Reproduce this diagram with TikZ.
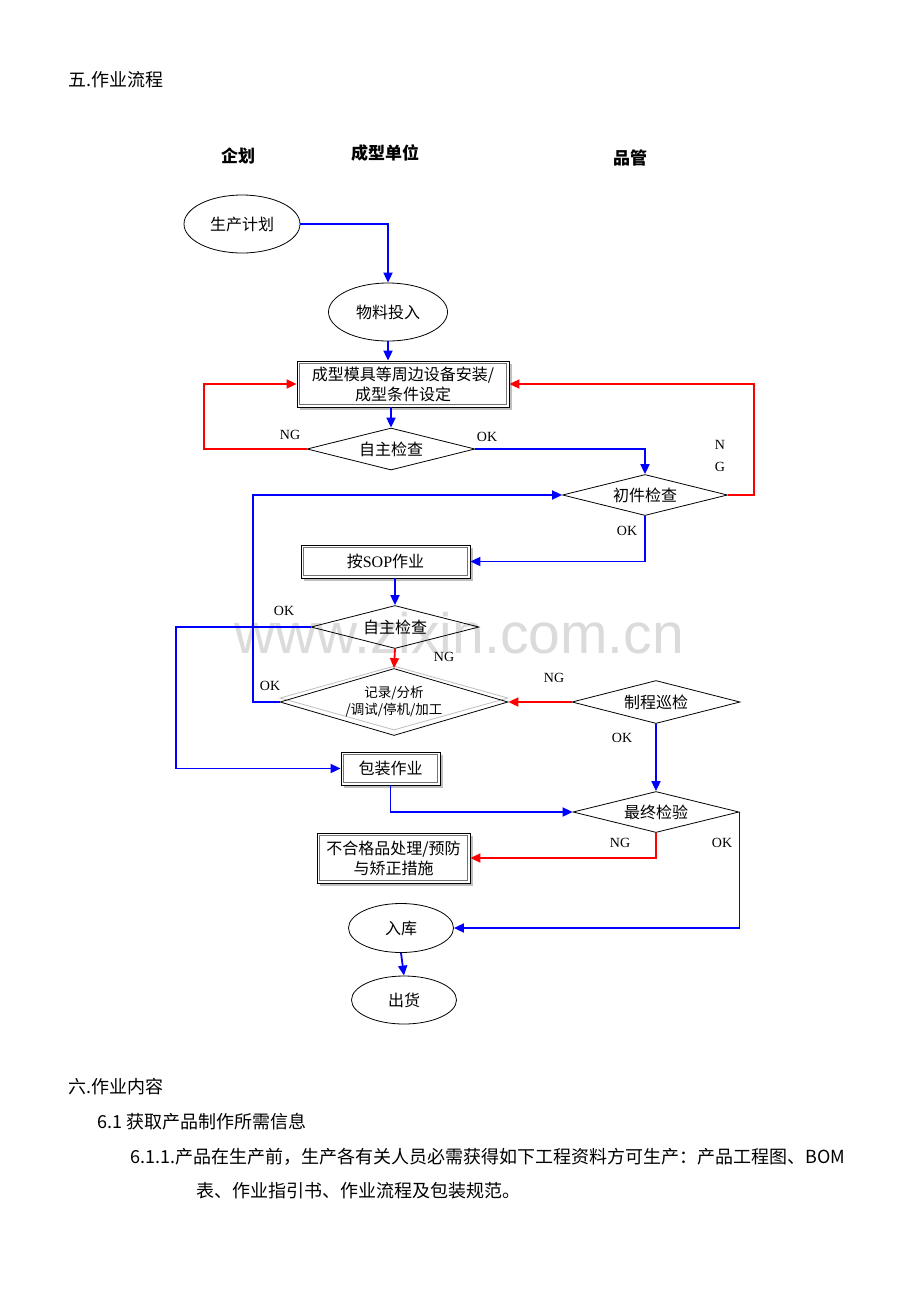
\documentclass[tikz,border=0pt]{standalone}
\usepackage{fontspec}
\setmainfont{Noto Sans CJK SC}
\newfontfamily\latinf{Liberation Serif}
\newfontfamily\wmfont{Liberation Sans}
\usetikzlibrary{shapes.geometric,arrows.meta,calc}
\definecolor{fblue}{RGB}{0,0,255}
\definecolor{fred}{RGB}{255,0,0}
\tikzset{
  bl/.style={draw=fblue,line width=1.8pt,-{Triangle[length=10pt,width=9pt]}},
  rd/.style={draw=fred,line width=1.8pt,-{Triangle[length=10pt,width=9pt]}},
  ell/.style={ellipse,draw,line width=0.8pt,inner sep=0pt,font=\fontsize{16}{18}\selectfont},
  dia/.style={diamond,draw,line width=0.8pt,inner sep=0pt,aspect=4,font=\fontsize{16}{18}\selectfont},
  boxs/.style={rectangle,draw=black,line width=0.8pt,inner sep=0pt,font=\fontsize{16}{20}\selectfont,align=center},
  inner/.style={draw=black!55,line width=0.7pt},
  shad/.style={draw=black!25,line width=1.5pt},
  lab/.style={font=\latinf\fontsize{14}{14}\selectfont,inner sep=0pt},
  hdr/.style={font=\bfseries\fontsize{17}{17}\selectfont,inner sep=0pt},
  body/.style={font=\fontsize{18}{18}\selectfont,inner sep=0pt,anchor=west}
}
\newcommand\boxdeco[1]{%
  \draw[shad] ($(#1.north east)+(1.5,3)$) -- ($(#1.south east)+(1.5,1.5)$) -- ($(#1.south west)+(3,1.5)$);
  \draw[inner] ($(#1.south west)+(3,-3)$) rectangle ($(#1.north east)+(-3,3)$);}
\begin{document}
\begin{tikzpicture}[x=1pt,y=-1pt]
\useasboundingbox[fill=white] (0,0) rectangle (920,1302);
% watermark
\node[font=\wmfont\fontsize{57}{57}\selectfont,text=black!14,inner sep=0pt] (wm) at (459,633) {www.zixin.com.cn};
% headings and texts
\node[body] (t5) at (68,80) {五.作业流程};
\node[hdr] (h1) at (238,156) {企划};
\node[hdr] (h2) at (385,153) {成型单位};
\node[hdr] (h3) at (630,158) {品管};
% nodes
\node[ell,minimum width=116pt,minimum height=58pt] (sc) at (242,224) {生产计划};
\node[ell,minimum width=119pt,minimum height=58pt] (wl) at (388,312) {物料投入};
\node[boxs,minimum width=212pt,minimum height=46pt] (box) at (403,384) {成型模具等周边设备安装/\\成型条件设定};
\boxdeco{box}
\node[dia,minimum width=168pt,minimum height=42pt] (z1) at (391,449) {自主检查};
\node[dia,minimum width=165pt,minimum height=41pt] (cj) at (645,495) {初件检查};
\node[boxs,minimum width=169pt,minimum height=33pt] (sop) at (385.5,561.5) {按{\latinf SOP}作业};
\boxdeco{sop}
\node[dia,minimum width=168pt,minimum height=43pt] (z2) at (395,627) {自主检查};
\node[diamond,draw=black!25,line width=0.8pt,minimum width=228pt,minimum height=64pt,aspect=3.5,inner sep=0pt] (recs) at (394,698) {};
\node[dia,aspect=3.4,minimum width=228pt,minimum height=67pt,align=center,font=\fontsize{13.5}{17}\selectfont] (rec) at (394,702) {记录/分析\\/调试/停机/加工};
\node[dia,minimum width=168pt,minimum height=43pt] (zc) at (656,702) {制程巡检};
\node[boxs,minimum width=99pt,minimum height=33pt] (bz) at (390.5,768.5) {包装作业};
\boxdeco{bz}
\node[dia,minimum width=166pt,minimum height=41pt] (zj) at (656,812) {最终检验};
\node[boxs,minimum width=153pt,minimum height=50pt] (bhg) at (393.5,858) {不合格品处理/预防\\与矫正措施};
\boxdeco{bhg}
\node[ell,minimum width=105pt,minimum height=49pt] (rk) at (401,928) {入库};
\node[ell,minimum width=105pt,minimum height=48pt] (ch) at (404,1000) {出货};
% connectors
\draw[bl] (sc.east) -| (wl.north);
\draw[bl] (wl.south) -- (wl.south |- box.north);
\draw[bl] (z1.north |- box.south) -- (z1.north);
\draw[rd] (z1.west) -- ++(-103,0) |- (box.west);
\draw[bl] (z1.east) -| (cj.north);
\draw[rd] (cj.east) -- ++(26,0) |- (box.east);
\draw[bl] (rec.west) -- ++(-27,0) |- (cj.west);
\draw[bl] (cj.south) |- (sop.east);
\draw[bl] (z2.north |- sop.south) -- (z2.north);
\draw[bl] (z2.west) -- ++(-135,0) |- (bz.west);
\draw[rd] (z2.south) -- (rec.north);
\draw[rd] (zc.west) -- (rec.east);
\draw[bl] (zc.south) -- (zj.north);
\draw[bl] (bz.south) |- (zj.west);
\draw[rd] (zj.south) |- (bhg.east);
\draw[bl] (zj.east) |- (rk.east);
\draw[bl] (rk.south) -- (ch.north);
% labels
\node[lab] (l1) at (290,435) {NG};
\node[lab] (l2) at (487,437) {OK};
\node[lab] (l3) at (720,445) {N};
\node[lab] (l4) at (720,467) {G};
\node[lab] (l5) at (627,531) {OK};
\node[lab] (l6) at (284,611) {OK};
\node[lab] (l7) at (444,657) {NG};
\node[lab] (l8) at (270,686) {OK};
\node[lab] (l9) at (554,678) {NG};
\node[lab] (l10) at (622,738) {OK};
\node[lab] (l11) at (620,843) {NG};
\node[lab] (l12) at (722,843) {OK};
% body text
\node[body] (t6) at (68,1087) {六.作业内容};
\node[body] (t61) at (97,1122) {6.1 获取产品制作所需信息};
\node[body] (t611) at (130,1157) {6.1.1.产品在生产前，生产各有关人员必需获得如下工程资料方可生产：产品工程图、BOM};
\node[body] (t611b) at (196,1191) {表、作业指引书、作业流程及包装规范。};
\end{tikzpicture}
\end{document}
